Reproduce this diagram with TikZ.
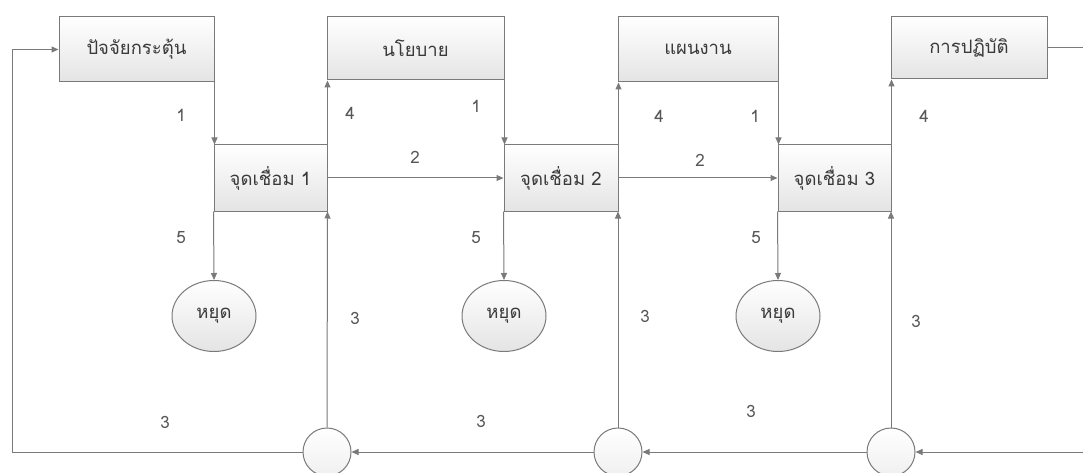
\documentclass[tikz,border=0pt]{standalone}
\usepackage{fontspec}
\newfontfamily\thaifont[Script=Thai]{Loma}
\usetikzlibrary{arrows.meta}
\definecolor{ln}{HTML}{7A7A7A}
\definecolor{tx}{HTML}{3A3A3A}
\definecolor{shd}{HTML}{E4E4E4}
\tikzset{
  box/.style={draw=ln, line width=1pt, top color=white, bottom color=shd, minimum width=#1, minimum height=65pt, inner sep=0pt, text=tx, font=\thaifont\fontsize{18.5}{22}\selectfont},
  jbox/.style={box=113pt, minimum height=66pt},
  stop/.style={draw=ln, line width=1pt, ellipse, top color=white, bottom color=shd, minimum width=84pt, minimum height=71pt, inner sep=0pt, text=tx, font=\thaifont\fontsize{18.5}{22}\selectfont},
  sum/.style={draw=ln, line width=1pt, circle, top color=white, bottom color=black!6, minimum size=48pt, inner sep=0pt},
  conn/.style={draw=ln, line width=1pt},
  arr/.style={conn, -{Triangle[length=7pt,width=6pt]}},
  num/.style={text=tx!85, font=\thaifont\fontsize{17}{19}\selectfont, inner sep=0pt},
}
\usetikzlibrary{shapes.geometric}
\begin{document}
\begin{tikzpicture}[x=1pt,y=-1pt]
\useasboundingbox[fill=white] (0,0) rectangle (1083,473);
% top boxes
\node[box=155pt] (b1) at (136.5,49.5) {ปัจจัยกระตุ้น};
\node[box=177pt, minimum height=63pt] (b2) at (415.5,48.5) {นโยบาย};
\node[box=160pt] (b3) at (698,49.5) {แผนงาน};
\node[box=156pt, minimum height=62pt] (b4) at (969,48) {การปฏิบัติ};
% junctions
\node[jbox] (j1) at (270.5,178) {จุดเชื่อม 1};
\node[jbox, minimum width=114pt] (j2) at (561,178) {จุดเชื่อม 2};
\node[jbox] (j3) at (834.5,178) {จุดเชื่อม 3};
% stops
\node[stop] (e1) at (214,316) {หยุด};
\node[stop] (e2) at (504,316) {หยุด};
\node[stop] (e3) at (778,316) {หยุด};
% summing circles
\node[sum] (c1) at (327,452) {};
\node[sum] (c2) at (618,452) {};
\node[sum] (c3) at (891,452) {};
\coordinate (lft) at (12,452);
\coordinate (rbot) at (1083,452);
\coordinate (rtop) at (1083,48);
% connectors
\draw[arr] (b1.south east) -- (b1.south east |- j1.north);
\draw[arr] (b2.south east) -- (b2.south east |- j2.north);
\draw[arr] (b3.south east) -- (b3.south east |- j3.north);
\draw[arr] (j1.north east) -- (j1.north east |- b2.south);
\draw[arr] (j2.north east) -- (j2.north east |- b3.south);
\draw[arr] (j3.north east) -- (j3.north east |- b4.south);
\draw[arr] (j1.east) -- (j2.west);
\draw[arr] (j2.east) -- (j3.west);
\draw[arr] (j1.south west) -- (e1.north);
\draw[arr] (j2.south west) -- (e2.north);
\draw[arr] (j3.south west) -- (e3.north);
\draw[arr] (c1.north) -- (j1.south east);
\draw[arr] (c2.north) -- (c2.north |- j2.south);
\draw[arr] (c3.north) -- (c3.north |- j3.south);
\draw[conn] (b4.east) -- (rtop);
\draw[arr] (rbot) -- (c3.east);
\draw[arr] (c3.west) -- (c2.east);
\draw[arr] (c2.west) -- (c1.east);
\draw[arr] (c1.west) -- (lft) |- (b1.west);
% labels
\node[num] (n1a) at (181,115) {1};
\node[num] (n4a) at (350,113) {4};
\node[num] (n1b) at (476,106) {1};
\node[num] (n2a) at (415,157) {2};
\node[num] (n4b) at (659,116) {4};
\node[num] (n2b) at (700,160) {2};
\node[num] (n1c) at (755,116) {1};
\node[num] (n4c) at (924,116) {4};
\node[num] (n5a) at (181,238) {5};
\node[num] (n5b) at (476,238) {5};
\node[num] (n5c) at (756,238) {5};
\node[num] (n3a) at (355,318) {3};
\node[num] (n3b) at (645,316) {3};
\node[num] (n3c) at (916,321) {3};
\node[num] (n3d) at (165,422) {3};
\node[num] (n3e) at (481,421) {3};
\node[num] (n3f) at (751,411) {3};
\end{tikzpicture}
\end{document}
